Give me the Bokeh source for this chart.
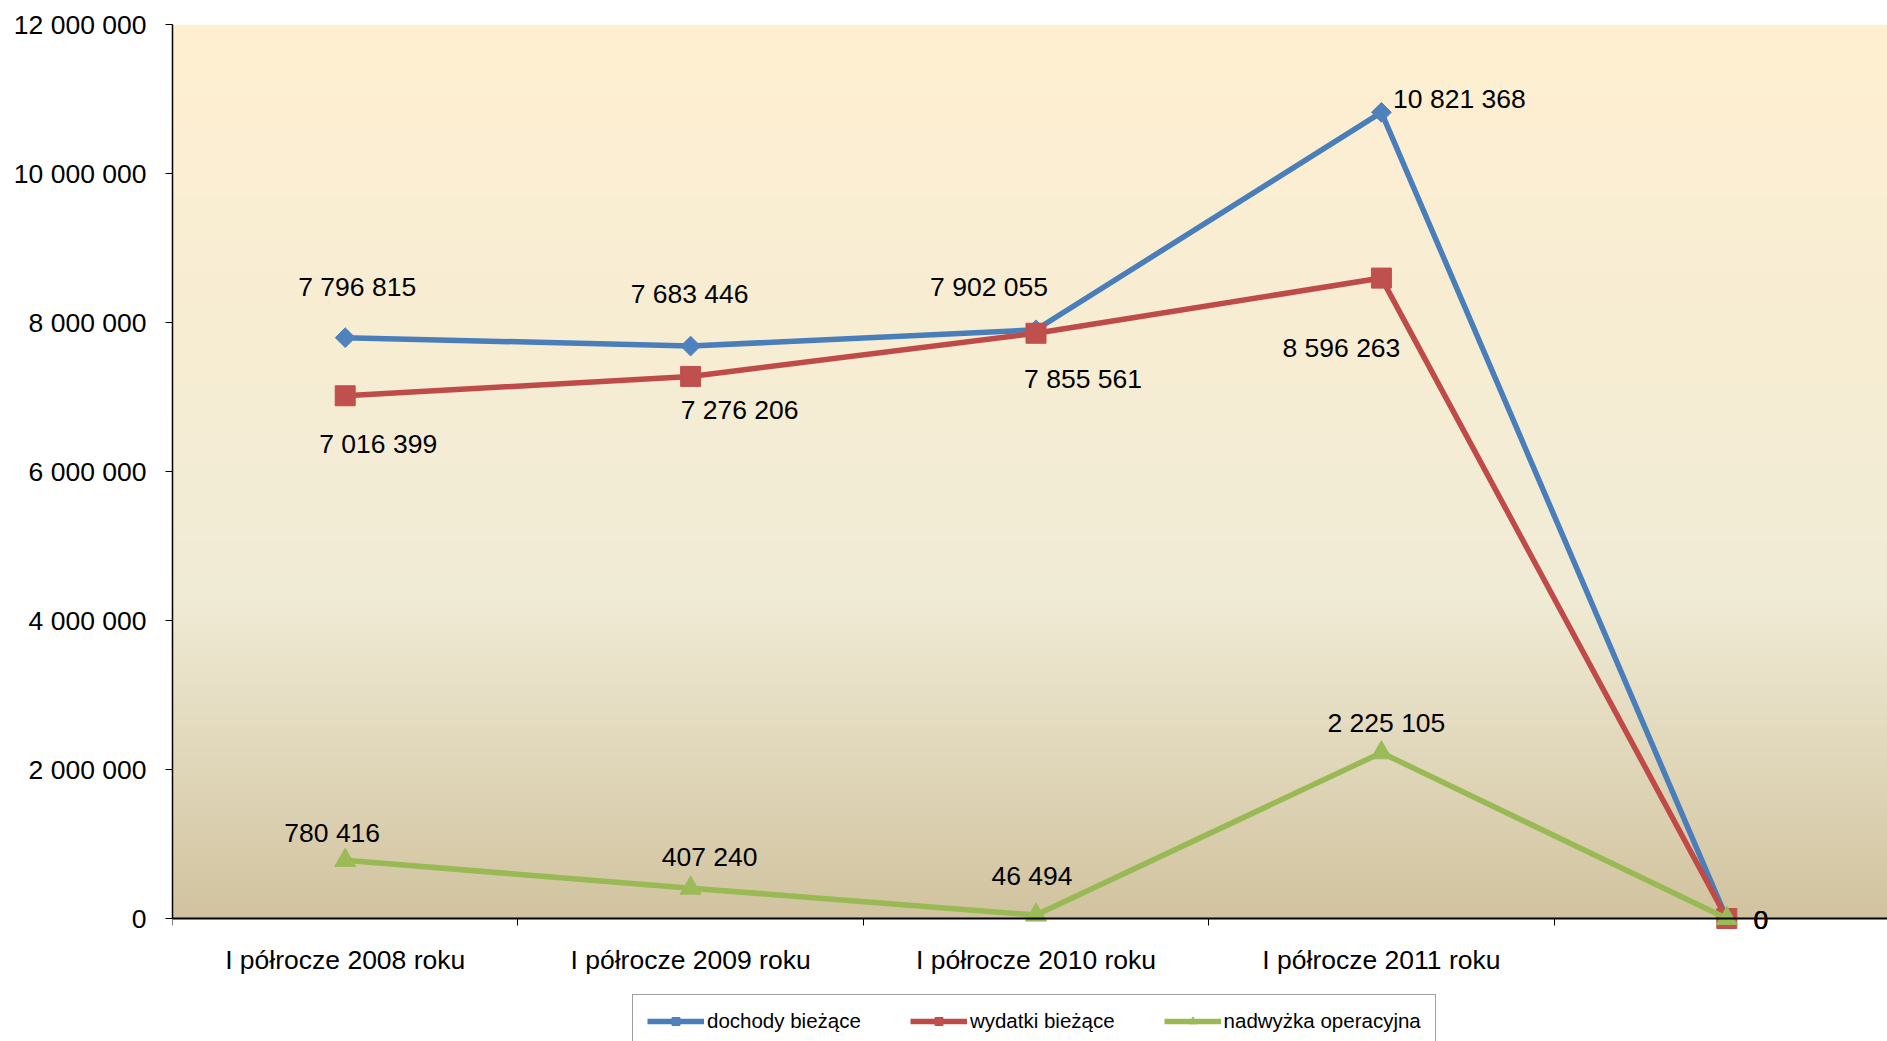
import numpy as np
from bokeh.plotting import figure
from bokeh.models import (Range1d, FixedTicker, Legend, LegendItem, ColumnDataSource)
from bokeh.core.properties import value
from bokeh.embed import file_html
from bokeh.resources import INLINE

# ---- data ----
categories = ["I półrocze 2008 roku", "I półrocze 2009 roku", "I półrocze 2010 roku",
              "I półrocze 2011 roku", ""]
dochody = [7796815, 7683446, 7902055, 10821368, 0]
wydatki = [7016399, 7276206, 7855561, 8596263, 0]
nadwyzka = [780416, 407240, 46494, 2225105, 0]
series_names = ["dochody bieżące", "wydatki bieżące", "nadwyżka operacyjna"]
y_ticks = [0, 2000000, 4000000, 6000000, 8000000, 10000000, 12000000]

# ---- styling ----
line_colors = ["#4A7EBB", "#BE4B48", "#98B954"]
marker_colors = ["#4F81BD", "#C0504D", "#9BBB59"]
FONT = "Liberation Sans"
FS = "26.5px"

def fmt(v):
    return f"{v:,}".replace(",", " ")

n = len(categories)
xs = [i + 0.5 for i in range(n)]
y_max = y_ticks[-1]

W, H = 1887, 1041
left, top = 172, 24
frame_w = W - left
frame_h = H - top
cat_w = 345.4          # pixels per category
plot_h = 894           # pixels from 0 to y_max
x_end = frame_w / cat_w
y_start = -(frame_h - plot_h) * y_max / plot_h

p = figure(width=W, height=H, output_backend="svg", toolbar_location=None,
           x_range=Range1d(0, x_end), y_range=Range1d(y_start, y_max),
           min_border_left=left, min_border_right=0, min_border_top=top,
           min_border_bottom=0)
p.outline_line_color = None
p.background_fill_color = "white"
p.border_fill_color = "white"

# background gradient (Parchment)
stops = [(0.0, (0xFF, 0xEF, 0xD1)), (0.64, (0xF0, 0xEB, 0xD5)), (1.0, (0xD1, 0xC3, 0x9F))]
N = 600
img = np.zeros((N, 1), dtype=np.uint32)
view = img.view(dtype=np.uint8).reshape((N, 1, 4))
for r in range(N):
    t = 1.0 - r / (N - 1)  # 0 at top, 1 at bottom ; row 0 is bottom
    for k in range(len(stops) - 1):
        t0, c0 = stops[k]
        t1, c1 = stops[k + 1]
        if t0 <= t <= t1:
            f = (t - t0) / (t1 - t0)
            c = [c0[j] + (c1[j] - c0[j]) * f for j in range(3)]
            break
    view[r, 0, 0] = int(round(c[0]))
    view[r, 0, 1] = int(round(c[1]))
    view[r, 0, 2] = int(round(c[2]))
    view[r, 0, 3] = 255
p.image_rgba(image=[img], x=0, y=0, dw=x_end, dh=y_max)

# grid
p.xgrid.grid_line_color = None
p.ygrid.grid_line_color = "#1a1a1a"
p.ygrid.grid_line_width = 1
p.ygrid.ticker = FixedTicker(ticks=y_ticks)

# y axis
p.yaxis.ticker = FixedTicker(ticks=y_ticks)
p.yaxis.bounds = (0, y_max)
p.yaxis.major_label_overrides = {t: fmt(t) for t in y_ticks}
p.yaxis.major_label_text_font = FONT
p.yaxis.major_label_text_font_size = FS
p.yaxis.major_label_text_color = "black"
p.yaxis.major_label_standoff = 19
p.yaxis.major_tick_out = 7
p.yaxis.major_tick_in = 0
p.yaxis.minor_tick_line_color = None
p.yaxis.axis_line_color = "black"
p.yaxis.axis_line_width = 1.5
p.yaxis.major_tick_line_color = "black"

# x axis (at y = 0)
p.xaxis.fixed_location = 0
p.xaxis.ticker = FixedTicker(ticks=xs, minor_ticks=list(range(n + 1)))
p.xaxis.major_label_overrides = {x: c for x, c in zip(xs, categories)}
p.xaxis.major_label_text_font = FONT
p.xaxis.major_label_text_font_size = FS
p.xaxis.major_label_text_color = "black"
p.xaxis.major_label_standoff = 19
p.xaxis.major_tick_line_color = None
p.xaxis.major_tick_out = 0
p.xaxis.major_tick_in = 0
p.xaxis.minor_tick_out = 7
p.xaxis.minor_tick_in = 0
p.xaxis.minor_tick_line_color = "black"
p.xaxis.axis_line_color = "black"
p.xaxis.axis_line_width = 2

all_values = [dochody, wydatki, nadwyzka]
markers = [("square", 14, np.pi / 4), ("square", 20, 0), ("triangle", 21, 0)]
# label offsets in screen pixels (dx, dy down)
offsets = [
    [(12, -51), (-1, -52), (-47, -43), (78, -13), (34, 1)],
    [(33, 48), (49, 34), (47, 46), (-40, 70), (34, 1)],
    [(-13, -27), (19, -31), (-4, -39), (5, -30), (34, 1)],
]

items = []
for vals, name, lc, mc, (mk, ms, ang) in zip(all_values, series_names, line_colors,
                                             marker_colors, markers):
    src = ColumnDataSource(dict(x=xs, y=vals))
    lr = p.line("x", "y", source=src, line_color=lc, line_width=5.5)
    sr = p.scatter("x", "y", source=src, marker=mk, size=ms, angle=ang,
                   fill_color=mc, line_color=mc)
    items.append(LegendItem(label=name, renderers=[lr, sr]))

for vals, offs in zip(all_values, offsets):
    src = ColumnDataSource(dict(x=xs, y=vals, t=[fmt(v) for v in vals],
                                dx=[o[0] for o in offs], dy=[o[1] for o in offs]))
    p.text("x", "y", text="t", source=src, x_offset="dx", y_offset="dy",
           text_align="center", text_baseline="middle",
           text_font=value(FONT), text_font_size=FS, text_color="black")

legend = Legend(items=items, orientation="horizontal", location=(460, -7),
                label_text_font=FONT, label_text_font_size="20.5px",
                label_text_color="black", glyph_width=57, glyph_height=20,
                label_height=20, label_standoff=3, spacing=49, padding=14,
                border_line_color="#404040", border_line_width=1,
                background_fill_color="white", background_fill_alpha=1.0, margin=0)
p.add_layout(legend, "center")

open("out.html", "w").write(file_html(p, INLINE))
